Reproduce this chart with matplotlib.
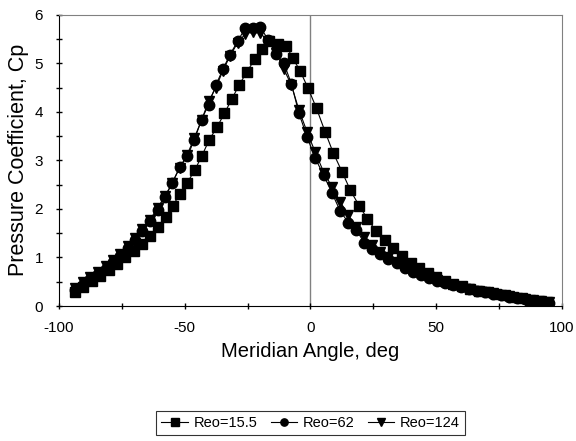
import matplotlib
matplotlib.use("Agg")
import matplotlib.pyplot as plt
from matplotlib.ticker import MultipleLocator

plt.rcParams["font.family"] = ["Liberation Sans", "DejaVu Sans"]
plt.rcParams["axes.unicode_minus"] = False

# Reo = 15.5 (squares)
angle_15 = [-93.8, -90.4, -87.0, -83.6, -80.2, -76.9, -73.6, -70.3, -67.0, -63.8,
            -60.6, -57.6, -54.8, -51.9, -49.0, -46.0, -43.2, -40.3, -37.1, -34.2,
            -31.3, -28.3, -25.2, -22.2, -19.4, -16.3, -12.8, -9.6, -7.1, -4.1,
            -0.9, 2.4, 5.8, 9.0, 12.5, 15.9, 19.3, 22.6, 26.0, 29.5,
            32.9, 36.4, 39.8, 43.2, 46.6, 50.0, 53.4, 56.8, 60.2, 63.6,
            67.0, 70.4, 73.8, 77.2, 80.6, 84.0, 87.4, 90.8, 94.2]
cp_15 = [0.28, 0.40, 0.51, 0.62, 0.75, 0.87, 1.01, 1.14, 1.28, 1.44,
         1.63, 1.84, 2.06, 2.31, 2.54, 2.80, 3.09, 3.42, 3.69, 3.97,
         4.26, 4.56, 4.83, 5.08, 5.29, 5.45, 5.39, 5.36, 5.11, 4.84,
         4.48, 4.07, 3.59, 3.16, 2.77, 2.38, 2.07, 1.80, 1.55, 1.36,
         1.19, 1.03, 0.89, 0.78, 0.68, 0.60, 0.52, 0.46, 0.41, 0.36,
         0.32, 0.28, 0.25, 0.22, 0.19, 0.16, 0.13, 0.11, 0.08]

# Reo = 62 (circles) and Reo = 124 (triangles)
angle_62 = [-93.5, -90.5, -87.5, -84.5, -81.5, -78.5, -75.6, -72.7, -69.8, -66.8,
            -63.8, -60.8, -57.8, -55.0, -52.0, -49.0, -46.2, -43.3, -40.5, -37.6,
            -34.8, -32.0, -29.0, -26.0, -23.0, -20.0, -16.8, -13.8, -10.6, -7.6,
            -4.6, -1.4, 1.8, 5.3, 8.6, 11.8, 15.0, 18.2, 21.4, 24.6,
            27.8, 31.0, 34.2, 37.4, 40.6, 43.8, 47.0, 50.2, 53.4, 56.6,
            59.8, 63.0, 66.2, 69.4, 72.6, 75.8, 79.0, 82.2, 85.4, 88.6,
            91.8, 95.0]
cp_62 = [0.33, 0.44, 0.55, 0.66, 0.77, 0.90, 1.03, 1.19, 1.36, 1.55,
         1.75, 1.97, 2.25, 2.53, 2.86, 3.08, 3.42, 3.84, 4.15, 4.55,
         4.88, 5.18, 5.45, 5.72, 5.73, 5.75, 5.48, 5.20, 5.00, 4.58,
         3.97, 3.49, 3.05, 2.69, 2.32, 1.96, 1.72, 1.57, 1.30, 1.18,
         1.08, 0.97, 0.88, 0.79, 0.71, 0.64, 0.58, 0.52, 0.47, 0.43,
         0.39, 0.35, 0.31, 0.28, 0.25, 0.22, 0.19, 0.16, 0.14, 0.11,
         0.09, 0.07]
cp_124 = [0.38, 0.49, 0.60, 0.71, 0.82, 0.94, 1.08, 1.23, 1.40, 1.58,
          1.78, 2.02, 2.27, 2.53, 2.85, 3.12, 3.46, 3.83, 4.22, 4.50,
          4.85, 5.15, 5.42, 5.60, 5.65, 5.62, 5.45, 5.22, 4.88, 4.55,
          4.04, 3.59, 3.18, 2.75, 2.45, 2.15, 1.88, 1.62, 1.42, 1.25,
          1.12, 1.00, 0.90, 0.81, 0.73, 0.66, 0.60, 0.54, 0.49, 0.44,
          0.40, 0.36, 0.32, 0.29, 0.26, 0.23, 0.20, 0.17, 0.14, 0.12,
          0.10, 0.08]

fig = plt.figure(figsize=(5.76, 4.41), dpi=100)
ax = fig.add_axes([0.1024, 0.306, 0.8733, 0.6607])

ax.axvline(0, color="#808080", linewidth=1, zorder=1)

ax.plot(angle_15, cp_15, color="black", linewidth=0.8, marker="s", markersize=7.5,
        label="Reo=15.5", zorder=3)
ax.plot(angle_62, cp_62, color="black", linewidth=0.8, marker="o", markersize=7.5,
        label="Reo=62", zorder=3)
ax.plot(angle_62, cp_124, color="black", linewidth=0.8, marker="v", markersize=7.5,
        label="Reo=124", zorder=3)

ax.set_xlim(-100, 100)
ax.set_ylim(0, 6)
ax.xaxis.set_major_locator(MultipleLocator(50))
ax.xaxis.set_minor_locator(MultipleLocator(25))
ax.yaxis.set_major_locator(MultipleLocator(1))
ax.yaxis.set_minor_locator(MultipleLocator(0.5))
ax.tick_params(which="both", direction="inout", length=5, width=1, labelsize=11)
ax.tick_params(axis="x", pad=8)
ax.tick_params(axis="y", pad=9)

for side in ["top", "right"]:
    ax.spines[side].set_color("#808080")
for side in ["left", "bottom"]:
    ax.spines[side].set_color("black")

ax.set_xlabel("Meridian Angle, deg", fontsize=14.5, labelpad=5)
ax.set_ylabel("Pressure Coefficient, Cp", fontsize=15.5, labelpad=4)

leg = fig.legend(loc="center", bbox_to_anchor=(0.539, 0.041), ncol=3, fontsize=10.5,
                 frameon=True, fancybox=False, edgecolor="black",
                 handlelength=1.8, columnspacing=0.9, handletextpad=0.4,
                 borderpad=0.35, markerscale=0.7)
leg.get_frame().set_linewidth(0.8)

fig.savefig("out.png", dpi=100)
